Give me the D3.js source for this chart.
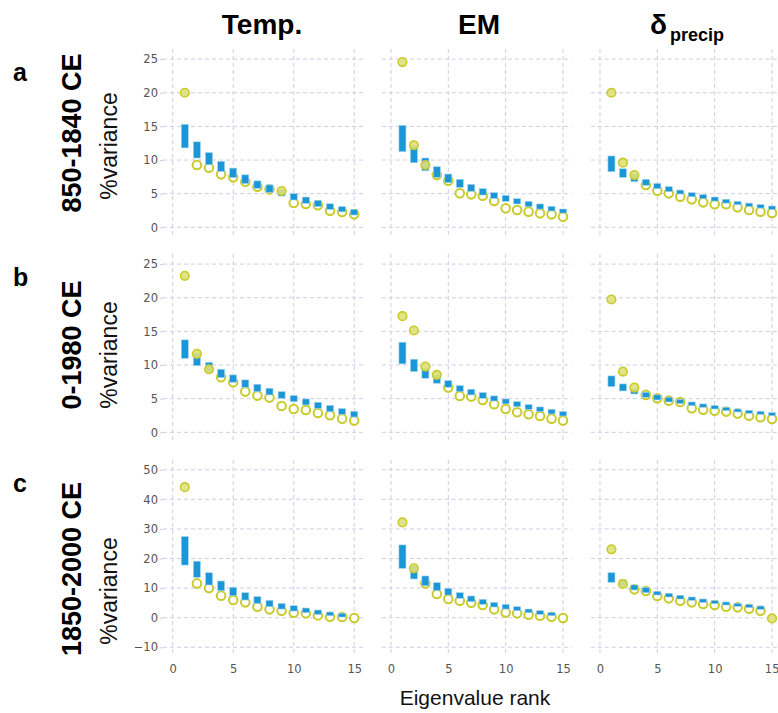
<!DOCTYPE html>
<html><head><meta charset="utf-8">
<script src="https://cdn.jsdelivr.net/npm/d3@7"></script>
<style>body{margin:0;background:#fff}svg{display:block}</style>
</head><body>
<svg id="chart" width="778" height="713"></svg>
<script>
// ---------------- DATA ----------------
const ranks = [1,2,3,4,5,6,7,8,9,10,11,12,13,14,15];
const columnTitles = ["Temp.", "EM", "δ"];
const columnSub = ["", "", "precip"];
const rowTitles = ["850-1840 CE", "0-1980 CE", "1850-2000 CE"];
const rowLetters = ["a", "b", "c"];
const xTicks = [0, 5, 10, 15];
const yTicksAB = [0, 5, 10, 15, 20, 25];
const yTicksC = [-10, 0, 10, 20, 30, 40, 50];

// row a : 850-1840 CE
const tempA_obs = [20.0, 9.26, 8.86, 7.87, 7.43, 6.78, 6.04, 5.64, 5.4, 3.61, 3.47, 3.27, 2.48, 2.28, 1.93];
const tempA_hi  = [15.3, 12.7, 11.1, 9.8, 8.8, 7.8, 6.9, 6.3, 5.6, 5.0, 4.5, 4.0, 3.5, 3.07, 2.67];
const tempA_lo  = [11.8, 10.3, 9.3, 8.3, 7.4, 6.5, 5.8, 5.2, 4.65, 4.06, 3.56, 3.07, 2.67, 2.3, 1.83];
const tempA_sig = [1, 9];
const emA_obs = [24.55, 12.2, 9.26, 7.77, 6.93, 5.05, 4.9, 4.7, 3.91, 2.82, 2.57, 2.33, 2.08, 1.93, 1.58];
const emA_hi  = [15.15, 12.08, 10.3, 9.0, 7.92, 7.13, 6.39, 5.74, 5.15, 4.75, 4.26, 3.86, 3.47, 3.12, 2.72];
const emA_lo  = [11.24, 9.6, 8.4, 7.43, 6.63, 5.94, 5.35, 4.8, 4.3, 3.86, 3.47, 3.07, 2.72, 2.43, 2.13];
const emA_sig = [1, 2, 3];
const dpA_obs = [20.0, 9.6, 7.77, 6.29, 5.45, 5.05, 4.55, 4.16, 3.71, 3.42, 3.42, 2.97, 2.57, 2.33, 2.13];
const dpA_hi  = [10.6, 8.7, 7.92, 7.13, 6.53, 6.04, 5.54, 5.15, 4.85, 4.5, 4.16, 3.86, 3.6, 3.37, 3.17];
const dpA_lo  = [8.27, 7.43, 6.78, 6.24, 5.74, 5.3, 4.95, 4.55, 4.26, 3.9, 3.6, 3.37, 3.1, 2.87, 2.67];
const dpA_sig = [1, 2, 3];

// row b : 0-1980 CE
const tempB_obs = [23.26, 11.66, 9.37, 8.18, 7.44, 6.05, 5.46, 5.16, 3.92, 3.47, 3.32, 2.88, 2.53, 2.03, 1.74];
const tempB_hi  = [13.74, 11.76, 10.4, 9.37, 8.53, 7.79, 7.14, 6.55, 6.05, 5.46, 4.96, 4.46, 4.0, 3.52, 3.12];
const tempB_lo  = [11.0, 9.92, 8.93, 8.13, 7.44, 6.7, 6.05, 5.56, 5.06, 4.56, 4.07, 3.57, 3.08, 2.68, 2.28];
const tempB_sig = [1, 2, 3];
const emB_obs = [17.26, 15.13, 9.77, 8.53, 6.65, 5.41, 5.31, 4.81, 4.17, 3.47, 2.98, 2.68, 2.43, 2.03, 1.74];
const emB_hi  = [13.39, 10.86, 9.52, 8.53, 7.69, 6.94, 6.4, 5.9, 5.41, 4.96, 4.56, 4.12, 3.77, 3.42, 3.08];
const emB_lo  = [10.17, 9.03, 8.04, 7.29, 6.7, 6.05, 5.56, 5.06, 4.66, 4.22, 3.82, 3.42, 3.08, 2.73, 2.43];
const emB_sig = [1, 2, 3, 4];
const dpB_obs = [19.74, 9.03, 6.65, 5.56, 5.06, 4.71, 4.51, 3.57, 3.37, 3.22, 3.08, 2.78, 2.48, 2.23, 1.98];
const dpB_hi  = [8.38, 7.19, 6.45, 5.95, 5.56, 5.21, 4.91, 4.51, 4.22, 3.97, 3.72, 3.47, 3.27, 3.13, 2.93];
const dpB_lo  = [6.8, 6.15, 5.7, 5.21, 4.81, 4.51, 4.27, 3.97, 3.72, 3.47, 3.22, 3.03, 2.83, 2.68, 2.48];
const dpB_sig = [1, 2, 3];

// row c : 1850-2000 CE (no band visible at rank 15)
const tempC_obs = [44.1, 11.6, 10.0, 7.45, 5.98, 5.19, 3.72, 2.82, 2.37, 1.69, 1.47, 0.79, 0.34, 0.23, -0.11];
const tempC_hi  = [27.4, 19.1, 15.2, 12.4, 10.27, 8.46, 7.11, 5.87, 4.85, 4.06, 3.27, 2.6, 1.92, 1.47, null];
const tempC_lo  = [17.8, 13.66, 11.06, 9.14, 7.45, 5.98, 4.85, 3.72, 2.93, 2.26, 1.69, 1.13, 0.68, 0.23, null];
const tempC_sig = [1];
const emC_obs = [32.2, 16.7, 11.6, 8.0, 6.32, 5.76, 5.08, 4.29, 2.82, 1.8, 1.47, 1.02, 0.68, 0.34, -0.11];
const emC_hi  = [24.6, 17.5, 14.1, 11.85, 9.93, 8.46, 7.34, 6.21, 5.19, 4.51, 3.72, 2.93, 2.37, 1.8, null];
const emC_lo  = [16.7, 13.1, 10.8, 9.14, 7.67, 6.55, 5.42, 4.51, 3.61, 2.93, 2.37, 1.69, 1.13, 0.68, null];
const emC_sig = [1, 2];
const dpC_obs = [23.1, 11.4, 9.59, 9.03, 7.34, 6.55, 5.76, 5.19, 4.63, 4.29, 3.72, 3.5, 3.05, 2.37, -0.23];
const dpC_hi  = [15.2, 12.75, 11.06, 10.16, 8.9, 8.24, 7.56, 7.0, 6.32, 5.76, 5.3, 4.85, 4.51, 3.95, null];
const dpC_lo  = [11.96, 10.5, 9.37, 8.46, 7.67, 7.0, 6.32, 5.87, 5.19, 4.74, 4.29, 3.84, 3.39, 2.82, null];
const dpC_sig = [1, 2, 15];

const panels = [
  [ {obs: tempA_obs, hi: tempA_hi, lo: tempA_lo, sig: tempA_sig},
    {obs: emA_obs,   hi: emA_hi,   lo: emA_lo,   sig: emA_sig},
    {obs: dpA_obs,   hi: dpA_hi,   lo: dpA_lo,   sig: dpA_sig} ],
  [ {obs: tempB_obs, hi: tempB_hi, lo: tempB_lo, sig: tempB_sig},
    {obs: emB_obs,   hi: emB_hi,   lo: emB_lo,   sig: emB_sig},
    {obs: dpB_obs,   hi: dpB_hi,   lo: dpB_lo,   sig: dpB_sig} ],
  [ {obs: tempC_obs, hi: tempC_hi, lo: tempC_lo, sig: tempC_sig},
    {obs: emC_obs,   hi: emC_hi,   lo: emC_lo,   sig: emC_sig},
    {obs: dpC_obs,   hi: dpC_hi,   lo: dpC_lo,   sig: dpC_sig} ]
];

// ---------------- LAYOUT ----------------
const colBox = [[163, 363.3], [381.8, 571.6], [590.8, 780.6]];
const rowBox = [
  {top: 49, bottom: 235.4, dom: [-1.2, 26.5], ticks: yTicksAB, labelY: 133, varY: 146},
  {top: 254, bottom: 440.4, dom: [-1.2, 26.5], ticks: yTicksAB, labelY: 345, varY: 355},
  {top: 460, bottom: 654.7, dom: [-12.5, 53.3], ticks: yTicksC, labelY: 569, varY: 591}
];
const xDom = [-0.8, 15.75];
const gridColor = "#d0cce4";
const barColor = "#1b96d6";
const ringColor = "#c9cb2c";
const fillColor = "#dfe07a";
const tickFont = "DejaVu Sans, Verdana, sans-serif";
const titleFont = "Liberation Sans, Arial, sans-serif";

const svg = d3.select("#chart");

panels.forEach((row, ri) => {
  const rb = rowBox[ri];
  const y = d3.scaleLinear().domain(rb.dom).range([rb.bottom, rb.top]);
  row.forEach((p, ci) => {
    const x = d3.scaleLinear().domain(xDom).range(colBox[ci]);
    const g = svg.append("g");
    // grid
    g.selectAll("line.hg").data(rb.ticks).join("line")
      .attr("x1", colBox[ci][0]).attr("x2", colBox[ci][1])
      .attr("y1", d => y(d)).attr("y2", d => y(d))
      .attr("stroke", gridColor).attr("stroke-width", 1).attr("stroke-dasharray", "4,3");
    g.selectAll("line.vg").data(xTicks).join("line")
      .attr("x1", d => x(d)).attr("x2", d => x(d))
      .attr("y1", rb.top).attr("y2", rb.bottom)
      .attr("stroke", gridColor).attr("stroke-width", 1).attr("stroke-dasharray", "4,3");
    // y axis labels (first column)
    if (ci === 0) {
      const ax = d3.axisLeft(y).tickValues(rb.ticks).tickSize(3).tickPadding(2);
      const axg = g.append("g").attr("transform", `translate(${colBox[0][0]},0)`).call(ax);
      axg.select(".domain").remove();
      axg.selectAll("line").attr("stroke", gridColor);
      axg.selectAll("text").attr("fill", "#555").style("font-family", tickFont).style("font-size", "11.5px");
    }
    // x axis labels (bottom row)
    if (ri === 2) {
      const ax = d3.axisBottom(x).tickValues(xTicks).tickSize(0).tickPadding(10);
      const axg = g.append("g").attr("transform", `translate(0,${rb.bottom})`).call(ax);
      axg.select(".domain").remove();
      axg.selectAll("text").attr("fill", "#555").style("font-family", tickFont).style("font-size", "11.5px");
      if (ci === 2) axg.selectAll("text").filter(d => d === 15).attr("text-anchor", "end").attr("dx", "7px");
    }
    const pts = ranks.map((r, i) => ({r, obs: p.obs[i], hi: p.hi[i], lo: p.lo[i], sig: p.sig.includes(r)}));
    // open circles
    g.selectAll("circle.open").data(pts.filter(d => !d.sig)).join("circle")
      .attr("cx", d => x(d.r)).attr("cy", d => y(d.obs)).attr("r", 4.3)
      .attr("fill", "#fff").attr("stroke", ringColor).attr("stroke-width", 2);
    // bars (noise band)
    g.selectAll("rect.bar").data(pts.filter(d => d.hi != null)).join("rect")
      .attr("x", d => x(d.r) - 3.5).attr("width", 7)
      .attr("y", d => y(d.hi)).attr("height", d => Math.max(0, y(d.lo) - y(d.hi)))
      .attr("fill", barColor).attr("stroke", "#9fd3ef").attr("stroke-width", 0.6);
    // filled circles
    g.selectAll("circle.fill").data(pts.filter(d => d.sig)).join("circle")
      .attr("cx", d => x(d.r)).attr("cy", d => y(d.obs)).attr("r", 4.3)
      .attr("fill", fillColor).attr("fill-opacity", 0.9).attr("stroke", ringColor).attr("stroke-width", 1.6);
  });
  // row labels
  svg.append("text").attr("transform", `translate(81,${rb.labelY}) rotate(-90)`)
    .attr("text-anchor", "middle").style("font-family", titleFont).style("font-weight", "bold")
    .style("font-size", "27px").attr("fill", "#000").text(rowTitles[ri]);
  svg.append("text").attr("transform", `translate(117,${rb.varY}) rotate(-90)`)
    .attr("text-anchor", "middle").style("font-family", titleFont)
    .style("font-size", "23px").attr("fill", "#111").text("%variance");
  svg.append("text").attr("x", 13).attr("y", rb.top + 32)
    .style("font-family", titleFont).style("font-weight", "bold")
    .style("font-size", "25px").attr("fill", "#000").text(rowLetters[ri]);
});

// column titles
const colCenters = [262, 479, 687];
columnTitles.forEach((t, i) => {
  const txt = svg.append("text").attr("x", colCenters[i]).attr("y", 34)
    .attr("text-anchor", "middle").style("font-family", titleFont).style("font-weight", "bold")
    .style("font-size", "28px").attr("fill", "#000");
  txt.append("tspan").text(t);
  if (columnSub[i]) txt.append("tspan").attr("dy", 7).attr("dx", 3).style("font-size", "18px").text(columnSub[i]);
});

svg.append("text").attr("x", 475).attr("y", 705).attr("text-anchor", "middle")
  .style("font-family", titleFont).style("font-size", "21px").attr("fill", "#111").text("Eigenvalue rank");
</script>
</body></html>
